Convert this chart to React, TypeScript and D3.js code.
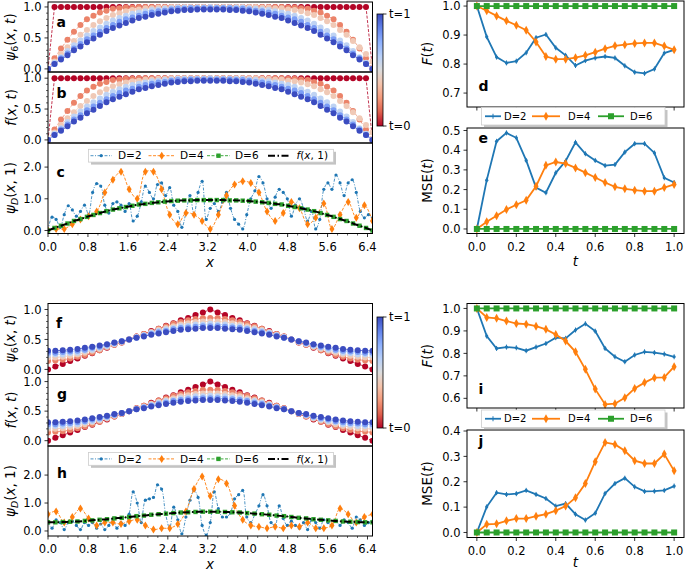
import React from "react";
import * as d3 from "d3";

// ------------------------------------------------------------------ data
const heatTimes = [0, 0.2, 0.4, 0.6, 0.8, 1.0];

// panel a / b : psi_6(x,t) ~ f(x,t), 51 grid points on [0, 6.5]
const topT00 = [0,1,1,1,1,1,1,1,1,1,1,1,1,1,1,1,1,1,1,1,1,1,1,1,1,1,1,1,1,1,1,1,1,1,1,1,1,1,1,1,1,1,1,1,1,1,1,1,1,1,0];
const topT02 = [0,.17,.33,.47,.60,.71,.80,.86,.91,.94,.97,.98,.99,.99,1,1,1,1,1,1,1,1,1,1,1,1,1,1,1,1,1,1,1,1,1,1,1,.99,.99,.98,.97,.94,.91,.86,.80,.71,.60,.47,.33,.17,0];
const topT04 = [0,.12,.24,.35,.45,.55,.63,.71,.77,.82,.87,.90,.93,.95,.96,.98,.98,.99,.99,1,1,1,1,1,1,1,1,1,1,1,1,1,1,.99,.99,.98,.98,.96,.95,.93,.90,.87,.82,.77,.71,.63,.55,.45,.35,.24,.12,0];
const topT06 = [0,.10,.19,.29,.38,.46,.54,.61,.67,.73,.78,.82,.86,.89,.91,.93,.95,.96,.97,.98,.99,.99,.99,.99,.99,1,.99,.99,.99,.99,.99,.98,.97,.96,.95,.93,.91,.89,.86,.82,.78,.73,.67,.61,.54,.46,.38,.29,.19,.10,0];
const topT08 = [0,.08,.17,.25,.33,.40,.48,.54,.60,.66,.71,.76,.80,.83,.86,.89,.91,.93,.94,.96,.97,.97,.98,.98,.98,.98,.98,.98,.98,.97,.97,.96,.94,.93,.91,.89,.86,.83,.80,.76,.71,.66,.60,.54,.48,.40,.33,.25,.17,.08,0];
const topT10 = [0,.08,.15,.22,.30,.36,.43,.49,.55,.61,.66,.70,.74,.78,.82,.84,.87,.89,.91,.93,.94,.95,.95,.96,.96,.96,.96,.96,.95,.95,.94,.93,.91,.89,.87,.84,.82,.78,.74,.70,.66,.61,.55,.49,.43,.36,.30,.22,.15,.08,0];
const topCurves = [topT00, topT02, topT04, topT06, topT08, topT10];

// panel f / g : 45 grid points on [0, 6.5]
const botT00 = [0,.05,.09,.14,.18,.23,.27,.32,.36,.41,.45,.50,.55,.59,.64,.68,.73,.77,.82,.86,.91,.95,1,.95,.91,.86,.82,.77,.73,.68,.64,.59,.55,.50,.45,.41,.36,.32,.27,.23,.18,.14,.09,.05,0];
const botT02 = [.14,.15,.16,.18,.21,.24,.28,.32,.37,.41,.45,.50,.55,.59,.63,.68,.72,.76,.79,.82,.84,.86,.86,.86,.84,.82,.79,.76,.72,.68,.63,.59,.55,.50,.45,.41,.37,.32,.28,.24,.21,.18,.16,.15,.14];
const botT04 = [.20,.20,.21,.23,.25,.28,.31,.34,.38,.42,.46,.50,.54,.58,.62,.66,.69,.72,.75,.77,.79,.80,.80,.80,.79,.77,.75,.72,.69,.66,.62,.58,.54,.50,.46,.42,.38,.34,.31,.28,.25,.23,.21,.20,.20];
const botT06 = [.24,.25,.25,.27,.28,.31,.33,.36,.39,.43,.46,.50,.54,.57,.61,.64,.67,.69,.72,.73,.75,.75,.76,.75,.75,.73,.72,.69,.67,.64,.61,.57,.54,.50,.46,.43,.39,.36,.33,.31,.28,.27,.25,.25,.24];
const botT08 = [.28,.28,.29,.30,.31,.33,.36,.38,.41,.44,.47,.50,.53,.56,.59,.62,.64,.67,.69,.70,.71,.72,.72,.72,.71,.70,.69,.67,.64,.62,.59,.56,.53,.50,.47,.44,.41,.38,.36,.33,.31,.30,.29,.28,.28];
const botT10 = [.31,.31,.32,.33,.34,.36,.38,.40,.42,.45,.47,.50,.53,.55,.58,.60,.62,.64,.66,.67,.68,.69,.69,.69,.68,.67,.66,.64,.62,.60,.58,.55,.53,.50,.47,.45,.42,.40,.38,.36,.34,.33,.32,.31,.31];
const botCurves = [botT00, botT02, botT04, botT06, botT08, botT10];

// panel c : psi_D(x,1)
const cD2 = [0,.42,.35,.1,.5,.78,.65,.45,.6,.8,.5,1.2,1.48,1.4,.8,.55,.85,.9,.8,.6,.85,.3,.45,.9,1.4,1.2,1.0,1.45,1.5,1.1,1.35,.8,.6,.1,.55,1.1,.5,1.2,1.55,.35,.7,.85,.6,.9,1.2,.7,.35,.2,.05,.5,1.0,1.25,1.7,1.5,1.0,.7,1.05,1.3,1.2,1.0,.45,.8,1.0,.7,.3,.6,.05,.35,1.3,1.5,1.3,1.75,1.5,1.1,1.5,1.6,1.2,.6,.4,.5,.4];
const cD4 = [0,.05,.05,.2,.35,.45,.6,1.2,1.6,1.85,1.3,1.0,1.85,1.85,1.3,.5,.2,.55,.5,.3,.05,.5,1.1,1.45,1.55,1.5,1.2,.6,.3,.55,.9,.7,.2,.4,.85,.05,.5,.9,.4,.8,.3];
const cD6 = topT10;
const cF1 = topT10;

// panel h
const hD2 = [.3,.1,.4,.3,.05,.3,.35,.2,.05,.3,.2,.3,.1,.25,.05,.2,.4,.1,.3,.2,.6,1.4,1.0,.3,1.1,1.15,1.2,1.65,1.5,.6,.1,.85,.4,-.1,.5,1.1,1.45,1.2,.2,-.15,.3,1.4,.8,.5,.5,.65,1.15,1.3,1.45,.5,.3,.6,.9,1.3,.9,.3,.2,.9,.45,.2,.35,.2,.1,.3,.05,.4,.3,.1,.4,.3,.2,.35,.2,.4,.3,.1,.5,.4,.2,.3,.35];
const hD4 = [.6,.7,.3,.5,.8,.45,.2,.3,.3,.25,.35,.4,.2,.05,.1,.1,.25,.7,1.5,1.95,1.25,1.85,1.7,.9,.4,.2,.15,.1,.15,.1,.2,.15,.3,.1,.1,.2,.8,.6,.3,.5,.6];
const hD6 = botT10;
const hF1 = botT10;

// panels d, e, i, j : 21 time steps
const dF2 = [1,.894,.824,.804,.81,.839,.891,.902,.856,.83,.795,.812,.821,.826,.821,.794,.772,.768,.783,.838,.849];
const dF4 = [1,.984,.966,.949,.934,.917,.876,.826,.817,.817,.822,.83,.841,.853,.863,.867,.871,.873,.873,.862,.849];
const dF6 = [1,1,1,1,1,1,1,1,1,1,1,1,1,1,1,1,1,1,1,1,1];
const eM2 = [0,.248,.445,.488,.463,.348,.21,.184,.285,.345,.44,.382,.348,.322,.327,.39,.433,.433,.386,.26,.236];
const eM4 = [0,.037,.067,.099,.123,.146,.217,.323,.34,.332,.31,.286,.261,.236,.214,.204,.197,.192,.192,.21,.226];
const eM6 = [0,0,0,0,0,0,0,0,0,0,0,0,0,0,0,0,0,0,0,0,0];
const iF2 = [1,.877,.822,.828,.825,.812,.828,.844,.87,.867,.904,.932,.899,.822,.785,.763,.793,.807,.803,.797,.785];
const iF4 = [1,.96,.956,.944,.933,.93,.921,.907,.884,.855,.807,.729,.641,.573,.576,.603,.644,.67,.692,.693,.741];
const iF6 = [1,1,1,1,1,1,1,1,1,1,1,1,1,1,1,1,1,1,1,1,1];
const jM2 = [0,.101,.157,.15,.153,.166,.15,.134,.104,.114,.072,.049,.076,.154,.193,.214,.18,.162,.163,.166,.183];
const jM4 = [0,.032,.034,.046,.055,.055,.064,.072,.086,.104,.137,.193,.279,.355,.347,.322,.283,.272,.272,.309,.243];
const jM6 = [0,0,0,0,0,0,0,0,0,0,0,0,0,0,0,0,0,0,0,0,0];

const xTicksLeft = [0, 0.8, 1.6, 2.4, 3.2, 4.0, 4.8, 5.6, 6.4];
const tTicks = [0, 0.2, 0.4, 0.6, 0.8, 1.0];

// ------------------------------------------------------------------ grids / scales
const xTopGrid = d3.range(topT00.length).map((i) => (i * 6.5) / (topT00.length - 1));
const xBotGrid = d3.range(botT00.length).map((i) => (i * 6.5) / (botT00.length - 1));
const xD2Grid = d3.range(cD2.length).map((i) => (i * 6.5) / (cD2.length - 1));
const xD4Grid = d3.range(cD4.length).map((i) => (i * 6.5) / (cD4.length - 1));
const tGrid = d3.range(dF2.length).map((i) => i / (dF2.length - 1));

const cwDomain = [0, 0.125, 0.25, 0.375, 0.5, 0.625, 0.75, 0.875, 1];
const cwRange = ["#3b4cc0", "#6282ea", "#8db0fe", "#b8d0f9", "#dddddd", "#f5c4ac", "#f49a7b", "#de604d", "#b40426"];
const coolwarm = d3.scaleLinear<string>().domain(cwDomain).range(cwRange).interpolate(d3.interpolateRgb);
const heatColor = (t: number) => coolwarm(1 - t);

const BLUE = "#1f77b4", ORANGE = "#ff7f0e", GREEN = "#2ca02c";
const FONT = "DejaVu Sans, Verdana, sans-serif";
const TICK_FS = 11.5;
const LAB_FS = 13.5;

type Fr = { x0: number; x1: number; y0: number; y1: number };
const FR: Record<string, Fr> = {
  a: { x0: 48, x1: 372.5, y0: 2, y1: 72 },
  b: { x0: 48, x1: 372.5, y0: 72, y1: 143 },
  c: { x0: 48, x1: 372.5, y0: 143, y1: 233.5 },
  f: { x0: 48, x1: 372.5, y0: 303.5, y1: 374.5 },
  g: { x0: 48, x1: 372.5, y0: 374.5, y1: 446 },
  h: { x0: 48, x1: 372.5, y0: 446, y1: 536 },
  d: { x0: 467, x1: 684, y0: 1, y1: 107 },
  e: { x0: 467, x1: 684, y0: 128, y1: 233.5 },
  i: { x0: 467, x1: 684, y0: 303.5, y1: 408 },
  j: { x0: 467, x1: 684, y0: 430, y1: 537.5 },
};
const YL: Record<string, [number, number]> = {
  a: [-0.05, 1.08], b: [-0.05, 1.1], c: [-0.095, 2.76],
  f: [-0.085, 1.1], g: [-0.09, 1.12], h: [-0.18, 3.04],
  d: [0.652, 1.0174], e: [-0.023, 0.5127], i: [0.557, 1.022], j: [-0.0198, 0.404],
};
const ys = (k: string) => d3.scaleLinear().domain(YL[k]).range([FR[k].y1, FR[k].y0]);
const xL = d3.scaleLinear().domain([0, 6.5]).range([48, 372.5]);
const xR = d3.scaleLinear().domain([-0.05, 1.05]).range([467, 684]);

// ------------------------------------------------------------------ helpers
function FrameRect({ k }: { k: string }) {
  const f = FR[k];
  return <rect x={f.x0} y={f.y0} width={f.x1 - f.x0} height={f.y1 - f.y0} fill="none" stroke="#000" strokeWidth={1} />;
}

function YAxis({ k, ticks, minor = [] as number[] }: { k: string; ticks: number[]; minor?: number[] }) {
  const f = FR[k];
  const y = ys(k);
  return (
    <g>
      {minor.map((v, i) => (
        <line key={"m" + i} x1={f.x0 - 2} x2={f.x0} y1={y(v)} y2={y(v)} stroke="#000" strokeWidth={0.6} />
      ))}
      {ticks.map((v, i) => (
        <g key={i}>
          <line x1={f.x0 - 3.5} x2={f.x0} y1={y(v)} y2={y(v)} stroke="#000" strokeWidth={0.8} />
          <text x={f.x0 - 6.5} y={y(v)} dy="0.36em" textAnchor="end" fontSize={TICK_FS}>
            {v.toFixed(1)}
          </text>
        </g>
      ))}
    </g>
  );
}

function XAxis({ k, x, ticks, minor = [] as number[], labels }: { k: string; x: any; ticks: number[]; minor?: number[]; labels: boolean }) {
  const f = FR[k];
  return (
    <g>
      {minor.map((v, i) => (
        <line key={"m" + i} x1={x(v)} x2={x(v)} y1={f.y1} y2={f.y1 + 2} stroke="#000" strokeWidth={0.6} />
      ))}
      {ticks.map((v, i) => (
        <g key={i}>
          <line x1={x(v)} x2={x(v)} y1={f.y1} y2={f.y1 + 3.5} stroke="#000" strokeWidth={0.8} />
          {labels && (
            <text x={x(v)} y={f.y1 + 17} textAnchor="middle" fontSize={TICK_FS}>
              {v.toFixed(1)}
            </text>
          )}
        </g>
      ))}
    </g>
  );
}

function ClipDef({ k }: { k: string }) {
  const f = FR[k];
  return (
    <clipPath id={"clip-" + k}>
      <rect x={f.x0} y={f.y0} width={f.x1 - f.x0} height={f.y1 - f.y0} />
    </clipPath>
  );
}

function HeatPanel({ k, curves, grid }: { k: string; curves: number[][]; grid: number[] }) {
  const y = ys(k);
  const line = d3.line<number>().x((_, i) => xL(grid[i])).y((v) => y(v));
  return (
    <g clipPath={`url(#clip-${k})`}>
      {curves.map((c, ci) => {
        const col = heatColor(heatTimes[ci]);
        return (
          <g key={ci}>
            <path d={line(c) || ""} fill="none" stroke={col} strokeWidth={0.8} strokeDasharray="3,1.5" />
            {c.map((v, i) => (
              <circle key={i} cx={xL(grid[i])} cy={y(v)} r={3} fill={col} />
            ))}
          </g>
        );
      })}
    </g>
  );
}

const diamond = (cx: number, cy: number, w: number, h: number) =>
  `M${cx},${cy - h / 2}L${cx + w / 2},${cy}L${cx},${cy + h / 2}L${cx - w / 2},${cy}Z`;

function PsiDPanel({ k, d2, d4, d6, f1, g6 }: { k: string; d2: number[]; d4: number[]; d6: number[]; f1: number[]; g6: number[] }) {
  const y = ys(k);
  const l2 = d3.line<number>().x((_, i) => xL(xD2Grid[i])).y((v) => y(v)).curve(d3.curveCatmullRom);
  const l4 = d3.line<number>().x((_, i) => xL(xD4Grid[i])).y((v) => y(v)).curve(d3.curveCatmullRom);
  const l6 = d3.line<number>().x((_, i) => xL(g6[i])).y((v) => y(v)).curve(d3.curveCatmullRom);
  return (
    <g clipPath={`url(#clip-${k})`}>
      <path d={l2(d2) || ""} fill="none" stroke={BLUE} strokeWidth={0.8} strokeDasharray="3,1.5,1,1.5" />
      {d2.map((v, i) => (
        <circle key={i} cx={xL(xD2Grid[i])} cy={y(v)} r={1.6} fill={BLUE} />
      ))}
      <path d={l4(d4) || ""} fill="none" stroke={ORANGE} strokeWidth={0.9} strokeDasharray="3,1.5" />
      {d4.map((v, i) => (
        <path key={i} d={diamond(xL(xD4Grid[i]), y(v), 5, 8)} fill={ORANGE} />
      ))}
      <path d={l6(d6) || ""} fill="none" stroke={GREEN} strokeWidth={0.9} strokeDasharray="3,1.5" />
      {d6.map((v, i) => (
        <rect key={i} x={xL(g6[i]) - 2.2} y={y(v) - 2.2} width={4.4} height={4.4} fill={GREEN} />
      ))}
      <path d={l6(f1) || ""} fill="none" stroke="#000" strokeWidth={2} strokeDasharray="7,2.5,1.5,2.5" />
    </g>
  );
}

function TimePanel({ k, s2, s4, s6 }: { k: string; s2: number[]; s4: number[]; s6: number[] }) {
  const y = ys(k);
  const line = d3.line<number>().x((_, i) => xR(tGrid[i])).y((v) => y(v));
  return (
    <g>
      <path d={line(s2) || ""} fill="none" stroke={BLUE} strokeWidth={1.8} />
      {s2.map((v, i) => (
        <g key={i}>
          <line x1={xR(tGrid[i])} x2={xR(tGrid[i])} y1={y(v) - 2.5} y2={y(v) + 2.5} stroke={BLUE} strokeWidth={1} />
          <circle cx={xR(tGrid[i])} cy={y(v)} r={1.6} fill={BLUE} />
        </g>
      ))}
      <path d={line(s4) || ""} fill="none" stroke={ORANGE} strokeWidth={1.8} />
      {s4.map((v, i) => (
        <path key={i} d={diamond(xR(tGrid[i]), y(v), 5, 9)} fill={ORANGE} />
      ))}
      <path d={line(s6) || ""} fill="none" stroke={GREEN} strokeWidth={1.8} />
      {s6.map((v, i) => (
        <rect key={i} x={xR(tGrid[i]) - 3} y={y(v) - 3} width={6} height={6} fill={GREEN} />
      ))}
    </g>
  );
}

function PsiLabel({ x, y, sub, arg }: { x: number; y: number; sub: string; arg: string }) {
  return (
    <text transform={`translate(${x},${y}) rotate(-90)`} textAnchor="middle" fontSize={LAB_FS}>
      <tspan fontStyle="italic">ψ</tspan>
      <tspan fontSize={9.5} dy={3} fontStyle={sub === "D" ? "italic" : "normal"}>{sub}</tspan>
      <tspan dy={-3}>(</tspan>
      <tspan fontStyle="italic">x</tspan>
      <tspan>, </tspan>
      {arg === "t" ? <tspan fontStyle="italic">t</tspan> : <tspan>1</tspan>}
      <tspan>)</tspan>
    </text>
  );
}

function FuncLabel({ x, y, name }: { x: number; y: number; name: string }) {
  return (
    <text transform={`translate(${x},${y}) rotate(-90)`} textAnchor="middle" fontSize={LAB_FS}>
      {name === "f" && (
        <>
          <tspan fontStyle="italic">f</tspan>
          <tspan>(</tspan>
          <tspan fontStyle="italic">x</tspan>
          <tspan>, </tspan>
          <tspan fontStyle="italic">t</tspan>
          <tspan>)</tspan>
        </>
      )}
      {name === "F" && (
        <>
          <tspan fontStyle="italic">F</tspan>
          <tspan>(</tspan>
          <tspan fontStyle="italic">t</tspan>
          <tspan>)</tspan>
        </>
      )}
      {name === "MSE" && (
        <>
          <tspan>MSE(</tspan>
          <tspan fontStyle="italic">t</tspan>
          <tspan>)</tspan>
        </>
      )}
    </text>
  );
}

function LeftLegend({ y0 }: { y0: number }) {
  const x0 = 88.5, x1 = 333.5, h = 12.8;
  const cy = y0 + h / 2;
  const fs = 10.5;
  return (
    <g>
      <rect x={x0 + 2.5} y={y0 + 2.5} width={x1 - x0} height={h} fill="#888" opacity={0.5} />
      <rect x={x0} y={y0} width={x1 - x0} height={h} fill="#fff" stroke="#ccc" strokeWidth={0.8} />
      <line x1={90.5} x2={112} y1={cy} y2={cy} stroke={BLUE} strokeWidth={0.8} strokeDasharray="3,1.5,1,1.5" />
      <circle cx={101.2} cy={cy} r={1.6} fill={BLUE} />
      <text x={118} y={cy} dy="0.36em" fontSize={fs}>D=2</text>
      <line x1={148.5} x2={175} y1={cy} y2={cy} stroke={ORANGE} strokeWidth={0.9} strokeDasharray="3,1.5" />
      <path d={diamond(161.7, cy, 5, 8)} fill={ORANGE} />
      <text x={180} y={cy} dy="0.36em" fontSize={fs}>D=4</text>
      <line x1={207} x2={230} y1={cy} y2={cy} stroke={GREEN} strokeWidth={0.9} strokeDasharray="3,1.5" />
      <rect x={218.5 - 2.2} y={cy - 2.2} width={4.4} height={4.4} fill={GREEN} />
      <text x={235} y={cy} dy="0.36em" fontSize={fs}>D=6</text>
      <line x1={268} x2={289} y1={cy} y2={cy} stroke="#000" strokeWidth={2} strokeDasharray="7,2.5,1.5,2.5" />
      <text x={296.5} y={cy} dy="0.36em" fontSize={fs}>
        <tspan fontStyle="italic">f</tspan>(<tspan fontStyle="italic">x</tspan>, 1)
      </text>
    </g>
  );
}

function RightLegend({ y0 }: { y0: number }) {
  const x0 = 481.5, x1 = 665, h = 17.5;
  const cy = y0 + h / 2;
  const fs = 10;
  return (
    <g>
      <rect x={x0 + 2.5} y={y0 + 2.5} width={x1 - x0} height={h} fill="#888" opacity={0.5} />
      <rect x={x0} y={y0} width={x1 - x0} height={h} fill="#fff" stroke="#ccc" strokeWidth={0.8} />
      <line x1={485} x2={501} y1={cy} y2={cy} stroke={BLUE} strokeWidth={1.8} />
      <line x1={493} x2={493} y1={cy - 2.5} y2={cy + 2.5} stroke={BLUE} strokeWidth={1} />
      <text x={504} y={cy} dy="0.36em" fontSize={fs}>D=2</text>
      <line x1={532} x2={560} y1={cy} y2={cy} stroke={ORANGE} strokeWidth={1.8} />
      <path d={diamond(546, cy, 5, 9)} fill={ORANGE} />
      <text x={568} y={cy} dy="0.36em" fontSize={fs}>D=4</text>
      <line x1={598} x2={624} y1={cy} y2={cy} stroke={GREEN} strokeWidth={1.8} />
      <rect x={611 - 3} y={cy - 3} width={6} height={6} fill={GREEN} />
      <text x={630} y={cy} dy="0.36em" fontSize={fs}>D=6</text>
    </g>
  );
}

function Colorbar({ y0, y1 }: { y0: number; y1: number }) {
  const x0 = 377, x1 = 383;
  return (
    <g>
      <rect x={x0} y={y0} width={x1 - x0} height={y1 - y0} fill="url(#cbgrad)" stroke="#000" strokeWidth={0.8} />
      <line x1={x1} x2={x1 + 3.5} y1={y0} y2={y0} stroke="#000" strokeWidth={0.8} />
      <line x1={x1} x2={x1 + 3.5} y1={y1} y2={y1} stroke="#000" strokeWidth={0.8} />
      <text x={x1 + 6} y={y0} dy="0.36em" fontSize={11.5}>t=1</text>
      <text x={x1 + 6} y={y1} dy="0.36em" fontSize={11.5}>t=0</text>
    </g>
  );
}

const minorY01 = [0.1, 0.2, 0.3, 0.4, 0.6, 0.7, 0.8, 0.9];
const minorX02 = [0.2, 0.4, 0.6, 1.0, 1.2, 1.4, 1.8, 2.0, 2.2, 2.6, 2.8, 3.0, 3.4, 3.6, 3.8, 4.2, 4.4, 4.6, 5.0, 5.2, 5.4, 5.8, 6.0, 6.2];

export default function App() {
  const letter = (x: number, y: number, s: string) => (
    <text x={x} y={y} fontSize={14} fontWeight="bold">{s}</text>
  );
  return (
    <svg width={685} height={570} viewBox="0 0 685 570" fontFamily={FONT}
      style={{ position: "absolute", left: 0, top: 0, background: "#fff" }}>
      <defs>
        {Object.keys(FR).map((k) => <ClipDef key={k} k={k} />)}
        <linearGradient id="cbgrad" x1="0" y1="0" x2="0" y2="1">
          {cwDomain.map((d, i) => (
            <stop key={i} offset={d} stopColor={cwRange[i]} />
          ))}
        </linearGradient>
      </defs>
      <rect x={0} y={0} width={685} height={570} fill="#fff" />

      {/* ---------- top-left group */}
      <HeatPanel k="a" curves={topCurves} grid={xTopGrid} />
      <HeatPanel k="b" curves={topCurves} grid={xTopGrid} />
      <PsiDPanel k="c" d2={cD2} d4={cD4} d6={cD6} f1={cF1} g6={xTopGrid} />
      {["a", "b", "c"].map((k) => <FrameRect key={k} k={k} />)}
      <YAxis k="a" ticks={[0, 0.5, 1]} minor={minorY01} />
      <YAxis k="b" ticks={[0, 0.5, 1]} minor={minorY01} />
      <YAxis k="c" ticks={[0, 1, 2]} />
      <XAxis k="c" x={xL} ticks={xTicksLeft} minor={minorX02} labels={true} />
      <LeftLegend y0={149.3} />
      {letter(56.5, 26.5, "a")}
      {letter(56.5, 97.5, "b")}
      {letter(56.5, 176.5, "c")}
      <PsiLabel x={15} y={37} sub="6" arg="t" />
      <FuncLabel x={16} y={107.5} name="f" />
      <PsiLabel x={15} y={188} sub="D" arg="1" />
      <text x={210} y={266.5} textAnchor="middle" fontSize={LAB_FS} fontStyle="italic">x</text>
      <Colorbar y0={14} y1={126} />

      {/* ---------- bottom-left group */}
      <HeatPanel k="f" curves={botCurves} grid={xBotGrid} />
      <HeatPanel k="g" curves={botCurves} grid={xBotGrid} />
      <PsiDPanel k="h" d2={hD2} d4={hD4} d6={hD6} f1={hF1} g6={xBotGrid} />
      {["f", "g", "h"].map((k) => <FrameRect key={k} k={k} />)}
      <YAxis k="f" ticks={[0, 0.5, 1]} minor={minorY01} />
      <YAxis k="g" ticks={[0, 0.5, 1]} minor={minorY01} />
      <YAxis k="h" ticks={[0, 1, 2]} />
      <XAxis k="h" x={xL} ticks={xTicksLeft} minor={minorX02} labels={true} />
      <LeftLegend y0={452.5} />
      {letter(56, 328, "f")}
      {letter(57, 398.5, "g")}
      {letter(57, 477.5, "h")}
      <PsiLabel x={15} y={338.5} sub="6" arg="t" />
      <FuncLabel x={16} y={410} name="f" />
      <PsiLabel x={15} y={491} sub="D" arg="1" />
      <text x={210} y={568.5} textAnchor="middle" fontSize={LAB_FS} fontStyle="italic">x</text>
      <Colorbar y0={317} y1={428} />

      {/* ---------- right top */}
      <TimePanel k="d" s2={dF2} s4={dF4} s6={dF6} />
      <TimePanel k="e" s2={eM2} s4={eM4} s6={eM6} />
      {["d", "e"].map((k) => <FrameRect key={k} k={k} />)}
      <YAxis k="d" ticks={[0.7, 0.8, 0.9, 1.0]} />
      <YAxis k="e" ticks={[0, 0.1, 0.2, 0.3, 0.4, 0.5]} />
      <XAxis k="d" x={xR} ticks={tTicks} labels={false} />
      <XAxis k="e" x={xR} ticks={tTicks} labels={true} />
      <RightLegend y0={107.5} />
      {letter(478.5, 90.5, "d")}
      {letter(478.5, 142.5, "e")}
      <FuncLabel x={432} y={53.5} name="F" />
      <FuncLabel x={432} y={180.5} name="MSE" />
      <text x={575.5} y={266} textAnchor="middle" fontSize={LAB_FS} fontStyle="italic">t</text>

      {/* ---------- right bottom */}
      <TimePanel k="i" s2={iF2} s4={iF4} s6={iF6} />
      <TimePanel k="j" s2={jM2} s4={jM4} s6={jM6} />
      {["i", "j"].map((k) => <FrameRect key={k} k={k} />)}
      <YAxis k="i" ticks={[0.6, 0.7, 0.8, 0.9, 1.0]} />
      <YAxis k="j" ticks={[0, 0.1, 0.2, 0.3, 0.4]} />
      <XAxis k="i" x={xR} ticks={tTicks} labels={false} />
      <XAxis k="j" x={xR} ticks={tTicks} labels={true} />
      <RightLegend y0={410} />
      {letter(478.5, 393.5, "i")}
      {letter(478.5, 445.5, "j")}
      <FuncLabel x={432} y={355.7} name="F" />
      <FuncLabel x={432} y={483.5} name="MSE" />
      <text x={575.5} y={567} textAnchor="middle" fontSize={LAB_FS} fontStyle="italic">t</text>
    </svg>
  );
}
